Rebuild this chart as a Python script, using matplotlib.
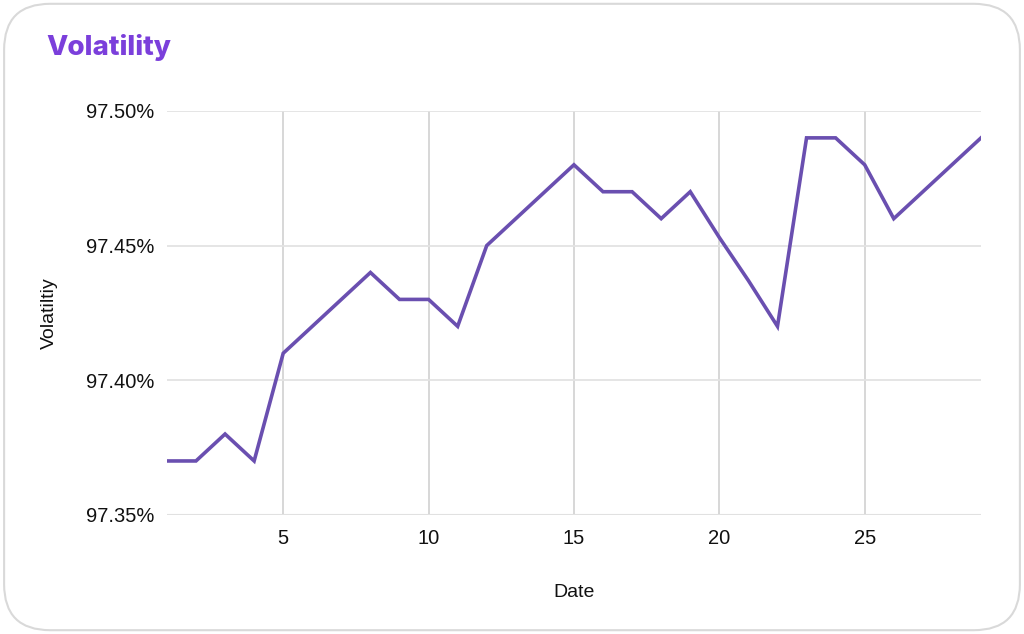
import matplotlib
matplotlib.use("Agg")
import matplotlib.pyplot as plt
from matplotlib.patches import FancyBboxPatch
from matplotlib.ticker import FuncFormatter

# data
days = list(range(1, 30))
volatility = [97.37, 97.37, 97.38, 97.37, 97.41, 97.42, 97.43, 97.44, 97.43, 97.43,
              97.42, 97.45, 97.46, 97.47, 97.48, 97.47, 97.47, 97.46, 97.47, 97.453,
              97.437, 97.42, 97.49, 97.49, 97.48, 97.46, 97.47, 97.48, 97.49]
x_ticks = [5, 10, 15, 20, 25]
y_ticks = [97.35, 97.40, 97.45, 97.50]

plt.rcParams['font.family'] = ['Liberation Sans', 'DejaVu Sans']

fig = plt.figure(figsize=(10.24, 6.34), dpi=100)

# card background with rounded border
card = FancyBboxPatch((0.004, 0.006), 0.992, 0.988,
                      boxstyle="round,pad=0,rounding_size=0.045",
                      transform=fig.transFigure, facecolor="white",
                      edgecolor="#d9d9d9", linewidth=1.5, mutation_aspect=1024/634,
                      zorder=-10)
fig.patches.append(card)

fig.text(0.045, 0.925, "Volatility", fontsize=20, fontweight="heavy",
         color="#7b3fdb", family=["Inter", "DejaVu Sans"], va="center")

ax = fig.add_axes([0.163, 0.188, 0.795, 0.637])
ax.patch.set_alpha(0)
ax.plot(days, volatility, color="#6a4fb0", linewidth=2.6, solid_joinstyle="miter")

ax.set_xlim(1, 29)
ax.set_ylim(97.35, 97.50)
ax.set_xticks(x_ticks)
ax.set_yticks(y_ticks)
ax.yaxis.set_major_formatter(FuncFormatter(lambda v, p: f"{v:.2f}%"))

ax.grid(axis="y", color="#e3e3e3", linewidth=1.3)
ax.grid(axis="x", color="#d4d4d4", linewidth=1.3)
ax.axhline(97.35, color="#d4d4d4", linewidth=1.5, zorder=0.5)
ax.set_axisbelow(True)
for s in ax.spines.values():
    s.set_visible(False)
ax.tick_params(length=0, labelsize=14.5, colors="#111111", pad=10)
ax.tick_params(axis="y", pad=9)

ax.set_xlabel("Date", fontsize=14, labelpad=26, color="#111111")
ax.set_ylabel("Volatiltiy", fontsize=14, labelpad=20, color="#111111")

fig.savefig("out.png", dpi=100)
